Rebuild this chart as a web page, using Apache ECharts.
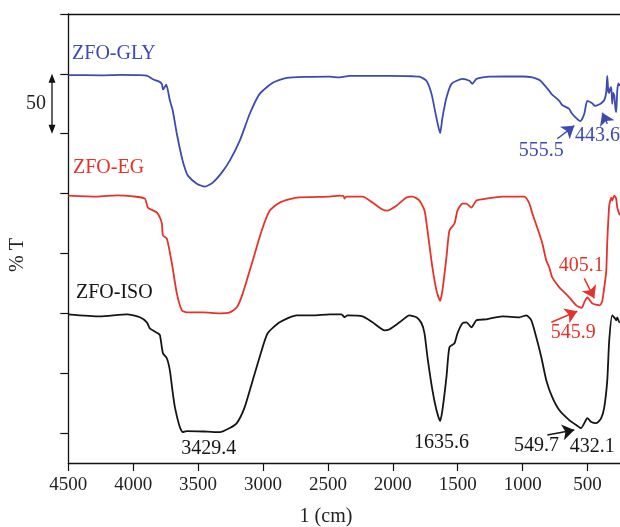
<!DOCTYPE html>
<html>
<head>
<meta charset="utf-8">
<script src="https://cdn.jsdelivr.net/npm/echarts@6/dist/echarts.min.js"></script>
<style>
  html, body { margin: 0; padding: 0; background: #fff; }
  #chart { width: 620px; height: 527px; }
</style>
</head>
<body>
<div id="chart"></div>
<script>
// FTIR spectra of the three ZnFe2O4 samples: [wavenumber (cm-1), transmittance (%)]
const glySpectrum = [
  [4500, 99.0], [4250, 98.8], [4100, 99.2], [3950, 99.0], [3895, 98.5], [3848, 95.5],
  [3800, 93.5], [3779, 91.5], [3771, 87.0], [3760, 88.5], [3745, 91.0], [3718, 78.0],
  [3695, 69.2], [3664, 50.0], [3625, 30.0], [3600, 20.5], [3579, 15.0], [3510, 8.3],
  [3448, 5.8], [3387, 9.2], [3318, 17.5], [3256, 27.5], [3179, 44.2], [3102, 66.7],
  [3026, 83.3], [2925, 92.5], [2818, 96.7], [2664, 97.5], [2487, 97.7], [2410, 97.0],
  [2333, 98.3], [2025, 98.3], [1850, 98.0], [1795, 97.7], [1741, 94.2], [1702, 83.3],
  [1664, 63.3], [1635.6, 50.5], [1618, 63.3], [1587, 80.0], [1548, 91.7], [1464, 95.8],
  [1410, 94.2], [1387, 91.7], [1356, 95.8], [1256, 97.7], [1000, 97.8], [925, 97.0],
  [872, 95.0], [856, 93.5], [795, 85.8], [779, 83.3], [718, 77.5], [695, 74.0],
  [641, 70.8], [625, 67.5], [587, 63.0], [555.5, 60.5], [525, 66.7], [502, 77.5],
  [464, 75.5], [443.6, 73.3], [420, 74.0], [395, 75.5], [371, 78.0], [356, 85.0],
  [348, 98.3], [340, 85.0], [333, 84.0], [325, 88.0], [317, 89.0], [310, 75.0],
  [302, 84.0], [294, 82.0], [286, 72.0], [279, 68.0], [271, 86.0], [262, 92.0], [250, 90.0]
];

const egSpectrum = [
  [4500, 98.3], [4278, 97.5], [4125, 98.6], [4002, 97.7], [3910, 95.8], [3887, 88.3],
  [3818, 84.2], [3794, 80.0], [3779, 75.0], [3771, 65.0], [3741, 62.5], [3702, 41.7],
  [3664, 16.7], [3625, 2.5], [3587, 0.8], [3464, 0.8], [3333, 0.0], [3256, 0.8],
  [3202, 5.0], [3156, 16.7], [3079, 44.2], [3010, 69.2], [2948, 85.8], [2872, 92.5],
  [2741, 96.7], [2487, 97.5], [2410, 98.3], [2380, 98.0], [2372, 95.8], [2360, 97.5],
  [2233, 97.5], [2156, 92.5], [2079, 86.7], [2041, 85.8], [1971, 90.0], [1895, 96.7],
  [1848, 97.5], [1795, 94.2], [1756, 85.8], [1733, 69.2], [1695, 38.3], [1664, 19.2],
  [1635.6, 10.5], [1618, 19.2], [1587, 46.7], [1564, 69.2], [1525, 75.0], [1502, 85.8],
  [1464, 91.7], [1433, 91.7], [1395, 88.3], [1356, 94.2], [1279, 95.8], [1156, 97.5],
  [987, 97.5], [948, 91.7], [925, 83.3], [872, 66.7], [848, 58.3], [818, 44.2],
  [795, 38.3], [772, 30.0], [718, 21.7], [695, 19.2], [641, 13.3], [587, 6.7],
  [545.9, 4.5], [525, 9.2], [502, 13.3], [464, 8.3], [425, 7.0], [405.1, 6.7],
  [387, 10.0], [371, 22.0], [356, 35.0], [348, 60.0], [333, 90.0], [317, 96.7],
  [310, 94.2], [294, 98.3], [280, 96.0], [271, 88.3], [256, 83.3], [250, 82.0]
];

const isoSpectrum = [
  [4500, 99.2], [4256, 97.5], [4048, 99.2], [3948, 96.7], [3895, 92.5], [3872, 87.5],
  [3810, 83.3], [3794, 81.7], [3771, 66.7], [3741, 62.5], [3718, 52.5], [3695, 33.3],
  [3679, 21.7], [3641, 5.0], [3618, 0.8], [3587, 1.7], [3429.4, 1.2], [3333, 0.8],
  [3256, 4.2], [3202, 8.3], [3141, 21.7], [3079, 44.2], [3010, 69.2], [2964, 83.3],
  [2872, 92.5], [2741, 98.3], [2618, 98.3], [2487, 99.2], [2395, 99.2], [2372, 96.7],
  [2349, 98.3], [2233, 97.5], [2156, 92.5], [2064, 85.8], [2025, 86.7], [1948, 92.5],
  [1872, 98.3], [1818, 96.7], [1779, 91.7], [1756, 83.3], [1733, 63.3], [1695, 35.8],
  [1664, 19.2], [1635.6, 10.0], [1618, 19.2], [1587, 46.7], [1564, 71.7], [1525, 75.0],
  [1502, 83.3], [1464, 91.7], [1433, 92.5], [1395, 88.3], [1356, 94.2], [1279, 95.0],
  [1156, 97.5], [1025, 96.7], [972, 98.3], [933, 94.2], [895, 80.0], [856, 63.3],
  [818, 44.2], [772, 30.0], [718, 19.2], [641, 10.8], [587, 6.7], [549.7, 4.2],
  [525, 8.3], [502, 12.5], [471, 9.2], [432.1, 8.3], [395, 12.5], [371, 21.7],
  [348, 44.2], [333, 77.5], [310, 98.3], [290, 96.0], [279, 94.2], [271, 96.7],
  [256, 92.5], [250, 93.0]
];

const sampleNames = ['ZFO-GLY', 'ZFO-EG', 'ZFO-ISO'];
const stackOffsets = [200, 100, 0];          // vertical shift of each spectrum (%T)
const sampleColors = ['#3f49b2', '#e5332a', '#151515'];

// Band positions marked on each spectrum (cm-1)
const glyPeaks = [555.5, 443.6];
const egPeaks = [545.9, 405.1];
const isoPeaks = [3429.4, 1635.6, 549.7, 432.1];

const xTickValues = [4500, 4000, 3500, 3000, 2500, 2000, 1500, 1000, 500];
const yTickValues = [0, 50, 100, 150, 200, 250, 300, 350];
const scaleBarSpan = [250, 300];               // 50 %T scale bar

const spectra = [glySpectrum, egSpectrum, isoSpectrum];
const peakSets = [glyPeaks, egPeaks, isoPeaks];

// Where each band label and its pointer sit (data units: [wavenumber, stacked %T])
const peakLayout = {
  '555.5': { text: [856, 235.8], arrow: [[733, 245.8], [602, 256.7]] },
  '443.6': { text: [423, 248.3], arrow: [[348, 258.3], [387, 267.5]] },
  '545.9': { text: [610, 84.2], arrow: [[779, 92.5], [579, 101.7]] },
  '405.1': { text: [548, 140.0], arrow: [[525, 129.2], [448, 112.5]] },
  '3429.4': { text: [3418, -13.3] },
  '1635.6': { text: [1625, -8.3] },
  '549.7': { text: [894, -10.8], arrow: [[810, -1.7], [602, 2.5]] },
  '432.1': { text: [464, -11.7] }
};
const nameLayout = [[4471, 316.7], [4464, 221.7], [4441, 117.5]];

const FONT = '"Liberation Serif", "DejaVu Serif", serif';

const chart = echarts.init(document.getElementById('chart'), null, { renderer: 'canvas' });

const lineSeries = spectra.map((spec, i) => ({
  name: sampleNames[i],
  type: 'line',
  data: spec.map(p => [p[0], p[1] + stackOffsets[i]]),
  showSymbol: false,
  smooth: 0.2,
  clip: true,
  lineStyle: { color: sampleColors[i], width: 1.8 },
  itemStyle: { color: sampleColors[i] },
  silent: true,
  markLine: {
    silent: true,
    symbol: ['none', 'arrow'],
    symbolSize: 12,
    label: { show: false },
    lineStyle: { color: sampleColors[i], width: 1.5, type: 'solid', opacity: 1 },
    data: peakSets[i]
      .filter(w => peakLayout[String(w)].arrow)
      .map(w => {
        const a = peakLayout[String(w)].arrow;
        return [{ coord: a[0] }, { coord: a[1] }];
      })
  }
}));

// Text annotations: band labels and sample names
const annotationData = [];
peakSets.forEach((peaks, i) => {
  peaks.forEach(w => {
    annotationData.push({
      value: peakLayout[String(w)].text,
      name: String(w),
      label: { color: sampleColors[i], position: 'inside' }
    });
  });
});
sampleNames.forEach((n, i) => {
  annotationData.push({
    value: nameLayout[i],
    name: n,
    label: { color: sampleColors[i], position: 'right', distance: 0 }
  });
});

const option = {
  animation: false,
  backgroundColor: '#fff',
  grid: { left: 68.3, right: -1, top: 14, bottom: 64, containLabel: false },
  xAxis: [{
    type: 'value',
    inverse: true,
    min: 250,
    max: 4500,
    axisLine: { show: true, onZero: false, lineStyle: { color: '#111', width: 1.3 } },
    axisTick: { show: true, length: 8, customValues: xTickValues, lineStyle: { color: '#111', width: 1.2 } },
    axisLabel: {
      show: true, customValues: xTickValues, margin: 13, color: '#222',
      fontSize: 19, fontFamily: FONT, formatter: v => String(v)
    },
    splitLine: { show: false }
  }, {
    type: 'value',
    position: 'top',
    inverse: true,
    min: 250,
    max: 4500,
    axisLine: { show: true, onZero: false, lineStyle: { color: '#111', width: 1.3 } },
    axisTick: { show: false },
    axisLabel: { show: false },
    splitLine: { show: false }
  }],
  yAxis: {
    type: 'value',
    min: -25,
    max: 350,
    axisLine: { show: true, onZero: false, lineStyle: { color: '#111', width: 1.3 } },
    axisTick: { show: true, length: 8, customValues: yTickValues, lineStyle: { color: '#111', width: 1.2 } },
    axisLabel: { show: false },
    splitLine: { show: false }
  },
  series: [
    ...lineSeries,
    {
      type: 'scatter',
      symbolSize: 0,
      silent: true,
      z: 5,
      itemStyle: { opacity: 1 },
      data: annotationData,
      label: {
        show: true,
        opacity: 1,
        formatter: p => p.name,
        fontSize: 20,
        fontFamily: FONT
      }
    }
  ]
};

chart.setOption(option);

// Axis titles and the 50 %T scale bar, placed from the axis scale
const yTop = chart.convertToPixel({ yAxisIndex: 0 }, scaleBarSpan[1]);
const yBot = chart.convertToPixel({ yAxisIndex: 0 }, scaleBarSpan[0]);
const barX = 52;
const head = 9, half = 3.5;
chart.setOption({
  graphic: [
    {
      type: 'line', silent: true,
      shape: { x1: barX, y1: yTop + head - 1, x2: barX, y2: yBot - head + 1 },
      style: { stroke: '#111', lineWidth: 1.3 }
    },
    {
      type: 'polygon', silent: true,
      shape: { points: [[barX, yTop], [barX - half, yTop + head], [barX + half, yTop + head]] },
      style: { fill: '#111' }
    },
    {
      type: 'polygon', silent: true,
      shape: { points: [[barX, yBot], [barX - half, yBot - head], [barX + half, yBot - head]] },
      style: { fill: '#111' }
    },
    {
      type: 'text', silent: true,
      x: 46, y: (yTop + yBot) / 2,
      style: { text: String(scaleBarSpan[1] - scaleBarSpan[0]), fill: '#222', font: '20px ' + FONT, align: 'right', verticalAlign: 'middle' }
    },
    {
      type: 'text', silent: true,
      x: 18, y: 255, rotation: Math.PI / 2,
      style: { text: '% T', fill: '#222', font: '20px ' + FONT, align: 'center', verticalAlign: 'middle' }
    },
    {
      type: 'text', silent: true,
      x: 326, y: 517,
      style: { text: '1 (cm)', fill: '#222', font: '20px ' + FONT, align: 'center', verticalAlign: 'middle' }
    }
  ]
});
</script>
</body>
</html>
